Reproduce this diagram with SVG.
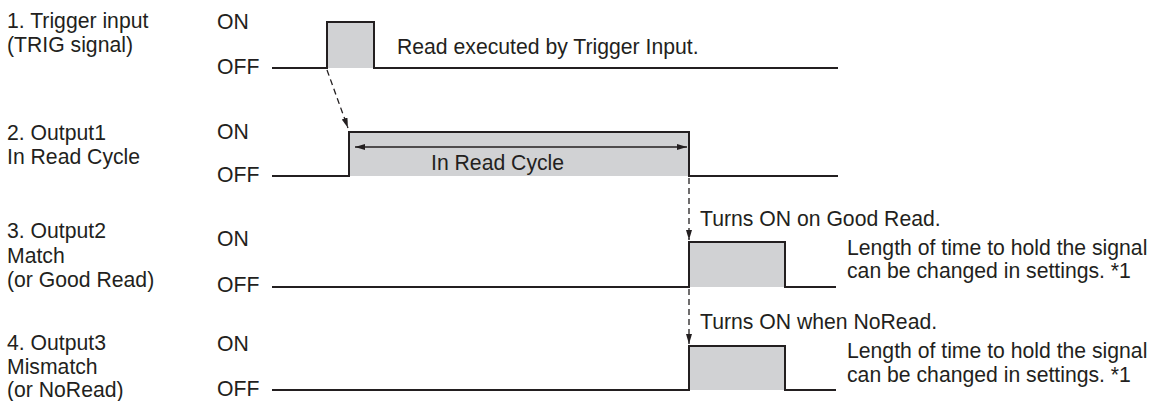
<svg xmlns="http://www.w3.org/2000/svg" width="1151" height="401" viewBox="0 0 1151 401">
<style>
text{font-family:"Liberation Sans",Arial,sans-serif;font-size:21.2px;fill:#231f20}
.sig{fill:none;stroke:#231f20;stroke-width:2}
.pulse{fill:#d1d2d4;stroke:none}
.dash{fill:none;stroke:#231f20;stroke-width:1.3;stroke-dasharray:6,4}
.dim{fill:none;stroke:#231f20;stroke-width:1.3}
</style>
<defs>
<marker id="ah" viewBox="0 0 10 10" refX="10" refY="5" markerWidth="10" markerHeight="10" markerUnits="userSpaceOnUse" orient="auto-start-reverse">
<path d="M0,2 L10,5 L0,8 Z" fill="#231f20"/>
</marker>
</defs>
<rect width="1151" height="401" fill="#fff"/>
<g id="row1">
<text x="7" y="28">1. Trigger input</text>
<text x="7" y="52">(TRIG signal)</text>
<text x="217" y="29">ON</text>
<text x="217" y="74">OFF</text>
<rect class="pulse" x="327" y="22" width="47" height="46"/>
<path class="sig" d="M272,68 H327 V22 H374 V68 H838"/>
<text x="397" y="54">Read executed by Trigger Input.</text>
</g>
<g id="row2">
<text x="7" y="140">2. Output1</text>
<text x="7" y="164">In Read Cycle</text>
<text x="217" y="139">ON</text>
<text x="217" y="182">OFF</text>
<rect class="pulse" x="349" y="132" width="340" height="44"/>
<path class="sig" d="M272,176 H349 V132 H689 V176 H838"/>
<text x="431" y="170">In Read Cycle</text>
</g>
<g id="row3">
<text x="7" y="238">3. Output2</text>
<text x="7" y="263">Match</text>
<text x="7" y="287">(or Good Read)</text>
<text x="217" y="246">ON</text>
<text x="217" y="292">OFF</text>
<rect class="pulse" x="689" y="242" width="96" height="45"/>
<path class="sig" d="M272,287 H689 V242 H785 V287 H836"/>
<text x="700" y="226">Turns ON on Good Read.</text>
<text x="847" y="255">Length of time to hold the signal</text>
<text x="847" y="278">can be changed in settings. *1</text>
</g>
<g id="row4">
<text x="7" y="350">4. Output3</text>
<text x="7" y="374">Mismatch</text>
<text x="7" y="397">(or NoRead)</text>
<text x="217" y="351">ON</text>
<text x="217" y="396">OFF</text>
<rect class="pulse" x="689" y="346" width="96" height="44"/>
<path class="sig" d="M272,390 H689 V346 H785 V390 H836"/>
<text x="700" y="329">Turns ON when NoRead.</text>
<text x="847" y="358">Length of time to hold the signal</text>
<text x="847" y="382">can be changed in settings. *1</text>
</g>
<g id="connectors">
<path class="dash" d="M327,70 L348,128" marker-end="url(#ah)"/>
<path class="dash" d="M689,178 V240" marker-end="url(#ah)"/>
<path class="dash" d="M689,289 V344" marker-end="url(#ah)"/>
<path class="dim" d="M355,147 H687" marker-start="url(#ah)" marker-end="url(#ah)"/>
</g>
</svg>
